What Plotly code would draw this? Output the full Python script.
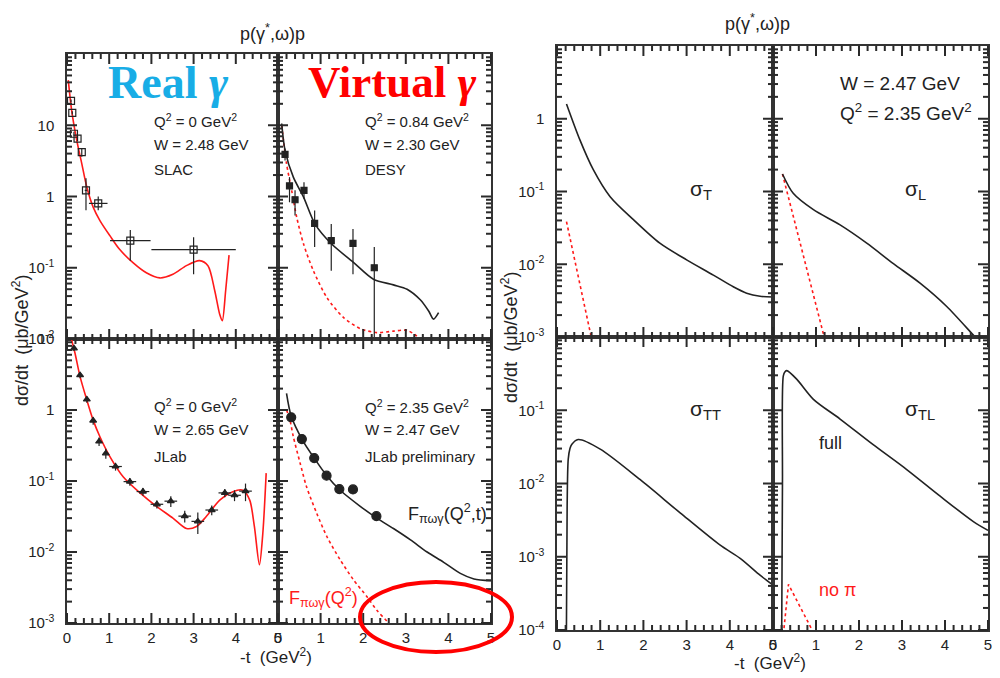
import math
import plotly.graph_objects as go

# ---------------- data ----------------
# Real photon, SLAC (Q2=0, W=2.48)
slac_curve_t = [0.03, 0.11, 0.23, 0.35, 0.47, 0.62, 0.78, 1.02, 1.25, 1.57, 1.88, 2.20, 2.51, 2.83, 3.14, 3.34, 3.50, 3.62, 3.68, 3.76, 3.84]
slac_curve_y = [43, 16.2, 6.2, 2.9, 1.35, 0.71, 0.46, 0.28, 0.18, 0.117, 0.085, 0.072, 0.081, 0.107, 0.126, 0.107, 0.048, 0.022, 0.018, 0.048, 0.15]
slac_t = [0.095, 0.125, 0.165, 0.25, 0.35, 0.45, 0.74, 1.5, 3.0]
slac_y = [22, 14.9, 7.6, 6.5, 4.2, 1.22, 0.80, 0.24, 0.18]
slac_ey_plus = [1.0, 0.8, 0.5, 0.5, 0.6, 0.58, 0.20, 0.10, 0.087]
slac_ey_minus = [1.0, 0.8, 0.5, 0.5, 0.6, 0.58, 0.16, 0.115, 0.099]
slac_ex = [0, 0, 0, 0, 0, 0.03, 0.22, 0.48, 1.0]

# Virtual photon, DESY (Q2=0.84, W=2.30)
desy_curve_t = [0.087, 0.165, 0.36, 0.6, 0.87, 1.26, 1.77, 2.24, 2.71, 3.03, 3.34, 3.54, 3.65, 3.77]
desy_curve_y = [10.6, 4.45, 1.87, 0.98, 0.41, 0.215, 0.119, 0.069, 0.0575, 0.050, 0.0355, 0.0245, 0.019, 0.0234]
desy_nopi_t = [0.087, 0.2, 0.32, 0.44, 0.60, 0.83, 1.15, 1.54, 1.93, 2.32, 2.71, 3.03, 3.26]
desy_nopi_y = [10, 2.9, 1.22, 0.51, 0.215, 0.091, 0.038, 0.020, 0.014, 0.0123, 0.0129, 0.0132, 0.011]
desy_t = [0.165, 0.27, 0.40, 0.61, 0.86, 1.25, 1.76, 2.26]
desy_y = [3.9, 1.41, 0.90, 1.22, 0.42, 0.24, 0.22, 0.10]
desy_ey_plus = [0.8, 0.46, 0.32, 0.36, 0.215, 0.17, 0.13, 0.095]
desy_ey_minus = [0.7, 0.58, 0.36, 0.29, 0.225, 0.149, 0.139, 0.0995]

# Real photon, JLab (Q2=0, W=2.65)
jlab_curve_t = [0.11, 0.19, 0.31, 0.47, 0.62, 0.78, 1.02, 1.33, 1.73, 2.12, 2.51, 2.83, 3.07, 3.30, 3.62, 3.93, 4.17, 4.33, 4.44, 4.56, 4.64, 4.72]
jlab_curve_y = [9.7, 6.3, 2.95, 1.38, 0.72, 0.42, 0.219, 0.115, 0.068, 0.044, 0.030, 0.0214, 0.0229, 0.0316, 0.0537, 0.0708, 0.0741, 0.0537, 0.0229, 0.0066, 0.0182, 0.129]
jlab_t = [0.165, 0.31, 0.47, 0.62, 0.76, 0.92, 1.15, 1.49, 1.80, 2.13, 2.46, 2.79, 3.10, 3.43, 3.74, 3.97, 4.23]
jlab_y = [7.4, 3.1, 1.41, 0.71, 0.36, 0.245, 0.16, 0.098, 0.071, 0.047, 0.052, 0.032, 0.027, 0.039, 0.068, 0.063, 0.072]
jlab_ey = [0.6, 0.3, 0.15, 0.09, 0.05, 0.04, 0.02, 0.012, 0.009, 0.006, 0.009, 0.006, 0.009, 0.006, 0.009, 0.011, 0.02]
jlab_ex = [0.03, 0.03, 0.03, 0.03, 0.03, 0.05, 0.15, 0.15, 0.15, 0.15, 0.15, 0.15, 0.15, 0.15, 0.15, 0.15, 0.15]

# Virtual photon, JLab preliminary (Q2=2.35, W=2.47)
jlp_curve_t = [0.2, 0.31, 0.56, 0.85, 1.14, 1.46, 1.93, 2.32, 2.71, 3.11, 3.5, 3.89, 4.28, 4.6, 5.0]
jlp_curve_y = [1.72, 0.82, 0.39, 0.21, 0.12, 0.074, 0.044, 0.030, 0.0214, 0.0148, 0.010, 0.00716, 0.0050, 0.00417, 0.00394]
jlp_nopi_t = [0.2, 0.28, 0.36, 0.52, 0.67, 0.91, 1.15, 1.46, 1.77, 2.09, 2.32, 2.56, 2.7]
jlp_nopi_y = [1.0, 0.72, 0.42, 0.178, 0.083, 0.035, 0.0164, 0.00776, 0.00407, 0.00234, 0.00151, 0.00105, 0.0008]
jlp_t = [0.31, 0.56, 0.85, 1.14, 1.44, 1.76, 2.31]
jlp_y = [0.79, 0.39, 0.21, 0.119, 0.077, 0.076, 0.032]

# Right block: separated cross sections (W=2.47, Q2=2.35)
sT_t = [0.22, 0.53, 0.84, 1.23, 1.77, 2.38, 3.0, 3.62, 4.08, 4.39, 4.70, 5.0]
sT_y = [1.6, 0.513, 0.20, 0.085, 0.041, 0.0195, 0.0115, 0.0071, 0.0049, 0.0040, 0.00363, 0.00355]
sT_nopi_t = [0.22, 0.80]
sT_nopi_y = [0.0385, 0.00095]
sL_t = [0.22, 0.47, 0.94, 1.56, 2.18, 2.8, 3.42, 4.04, 4.70, 4.9]
sL_y = [0.174, 0.0944, 0.0562, 0.0347, 0.0195, 0.0102, 0.0055, 0.00263, 0.001, 0.00075]
sL_nopi_t = [0.22, 1.20]
sL_nopi_y = [0.174, 0.00095]
sTT_t = [0.215, 0.235, 0.26, 0.30, 0.34, 0.49, 1.0, 1.92, 2.85, 3.77, 4.24, 4.70, 5.0]
sTT_y = [5e-5, 0.005, 0.0214, 0.030, 0.0340, 0.0398, 0.0295, 0.01135, 0.00398, 0.00145, 0.00095, 0.00056, 0.00041]
sTL_t = [0.20, 0.22, 0.24, 0.28, 0.32, 0.55, 0.94, 1.56, 2.33, 3.11, 3.88, 4.66, 5.0]
sTL_y = [5e-5, 0.01, 0.295, 0.335, 0.347, 0.266, 0.141, 0.0759, 0.0339, 0.0155, 0.00676, 0.00302, 0.00229]
sTL_nopi_t = [0.20, 0.36, 0.95]
sTL_nopi_y = [5e-5, 0.00042, 9e-5]

x_ticks = [0, 1, 2, 3, 4, 5]
x_ticklabels = ["0", "1", "2", "3", "4", "5"]

# ---------------- styling helpers ----------------
W, H = 1000, 678
FONT = "Liberation Sans, Arial, sans-serif"
INK = "#222222"
AX = "#333333"
MAJ, MIN = 10, 5


def px(x):
    return x / W


def py(y):
    return 1 - y / H


def dec_label(e):
    if e == 1:
        return "10"
    if e == 0:
        return "1"
    return "10<sup>%d</sup>" % e


def xaxis(x0, x1, anchor, labels):
    return dict(domain=[px(x0), px(x1)], anchor=anchor, range=[0, 5], automargin=False,
                showline=True, linecolor=AX, linewidth=1.5, mirror=True, ticks="",
                tickmode="array", tickvals=x_ticks, ticktext=x_ticklabels,
                showticklabels=labels, showgrid=False, zeroline=False,
                tickfont=dict(size=15, family=FONT, color=INK))


def yaxis(y0, y1, anchor, lo, hi, labexps, labels):
    return dict(domain=[py(y1), py(y0)], anchor=anchor, type="log", range=[lo, hi], automargin=False,
                showline=True, linecolor=AX, linewidth=1.5, mirror=True, ticks="",
                tickmode="array", tickvals=[10.0 ** e for e in labexps],
                ticktext=[dec_label(e) for e in labexps], ticklabelstandoff=8,
                showticklabels=labels, showgrid=False, zeroline=False,
                tickfont=dict(size=15, family=FONT, color=INK))


fig = go.Figure()

LX = [67, 278, 491]
LY = [54, 339, 623]
RX = [557, 773, 988]
RY = [46, 337, 630]

# (axis suffix, x0, x1, y0, y1, lo, hi, labexps, xlabels, ylabels)
panels = [
    ("", LX[0], LX[1], LY[0], LY[1], -2, 2, [-2, -1, 0, 1], False, True),
    ("2", LX[1], LX[2], LY[0], LY[1], -2, 2, [-2, -1, 0, 1], False, False),
    ("3", LX[0], LX[1], LY[1], LY[2], -3, 1, [-3, -2, -1, 0, 1], True, True),
    ("4", LX[1], LX[2], LY[1], LY[2], -3, 1, [-3, -2, -1, 0, 1], True, False),
    ("5", RX[0], RX[1], RY[0], RY[1], -3, 1, [-3, -2, -1, 0], False, True),
    ("6", RX[1], RX[2], RY[0], RY[1], -3, 1, [-3, -2, -1, 0], False, False),
    ("7", RX[0], RX[1], RY[1], RY[2], -4, 0, [-4, -3, -2, -1], True, True),
    ("8", RX[1], RX[2], RY[1], RY[2], -4, 0, [-4, -3, -2, -1], True, False),
]

layout_axes = {}
shapes = []


def tick(xa, ya, xb, yb):
    shapes.append(dict(type="line", xref="paper", yref="paper",
                       x0=px(xa), y0=py(ya), x1=px(xb), y1=py(yb),
                       line=dict(color="#2a2a2a", width=2), layer="above"))


for n, x0, x1, y0, y1, lo, hi, labexps, xl, yl in panels:
    layout_axes["xaxis" + n] = xaxis(x0, x1, "y" + n, xl)
    layout_axes["yaxis" + n] = yaxis(y0, y1, "x" + n, lo, hi, labexps, yl)
    wpx, hpx = x1 - x0, y1 - y0
    # full frame of ticks (major + minor), drawn in paper space from the panel geometry
    for i in range(26):
        xx = x0 + wpx * i / 25.0
        ln = MAJ if i % 5 == 0 else MIN
        tick(xx, y1, xx, y1 - ln)
        tick(xx, y0, xx, y0 + ln)
    for e in range(lo, hi):
        for m in range(1, 10):
            yy = y1 - hpx * (math.log10(m) + e - lo) / (hi - lo)
            ln = MAJ if m == 1 else MIN
            tick(x0, yy, x0 + ln, yy)
            tick(x1, yy, x1 - ln, yy)


def line(t, y, ax, color, dash="solid", width=1.6, shape="spline"):
    fig.add_trace(go.Scatter(x=t, y=y, mode="lines", xaxis="x" + ax, yaxis="y" + ax,
                             line=dict(color=color, width=width, dash=dash, shape=shape,
                                       smoothing=0.8 if shape == "spline" else None),
                             showlegend=False, hoverinfo="skip"))


def points(t, y, ax, symbol, size, eyp=None, eym=None, ex=None):
    kw = {}
    if eyp is not None:
        kw["error_y"] = dict(type="data", symmetric=False, array=eyp,
                             arrayminus=eym if eym is not None else eyp,
                             color=INK, thickness=1.2, width=0)
    if ex is not None:
        kw["error_x"] = dict(type="data", array=ex, color=INK, thickness=1.2, width=0)
    fig.add_trace(go.Scatter(x=t, y=y, mode="markers", xaxis="x" + ax, yaxis="y" + ax,
                             marker=dict(symbol=symbol, size=size, color=INK,
                                         line=dict(color=INK, width=1.2)),
                             showlegend=False, hoverinfo="skip", **kw))


RED = "#ff1a1a"
line(slac_curve_t, slac_curve_y, "", RED)
points(slac_t, slac_y, "", "square-open", 7, slac_ey_plus, slac_ey_minus, slac_ex)
line(desy_nopi_t, desy_nopi_y, "2", RED, dash="dot")
line(desy_curve_t, desy_curve_y, "2", INK)
points(desy_t, desy_y, "2", "square", 6, desy_ey_plus, desy_ey_minus)
line(jlab_curve_t, jlab_curve_y, "3", RED)
points(jlab_t, jlab_y, "3", "triangle-up", 6, jlab_ey, jlab_ey, jlab_ex)
line(jlp_nopi_t, jlp_nopi_y, "4", RED, dash="dot")
line(jlp_curve_t, jlp_curve_y, "4", INK)
points(jlp_t, jlp_y, "4", "circle", 9)
line(sT_nopi_t, sT_nopi_y, "5", RED, dash="dot", shape="linear")
line(sT_t, sT_y, "5", INK)
line(sL_nopi_t, sL_nopi_y, "6", RED, dash="dot", shape="linear")
line(sL_t, sL_y, "6", INK)
line(sTT_t, sTT_y, "7", INK)
line(sTL_nopi_t, sTL_nopi_y, "8", RED, dash="dot", shape="linear")
line(sTL_t, sTL_y, "8", INK)

annotations = []


def ann(x, y, text, size=15, color=INK, xanchor="left", family=FONT, angle=0, yanchor="middle"):
    annotations.append(dict(x=px(x), y=py(y), xref="paper", yref="paper", text=text,
                            showarrow=False, xanchor=xanchor, yanchor=yanchor, textangle=angle,
                            font=dict(size=size, color=color, family=family)))


ann(272, 32, "p(γ<sup>*</sup>,ω)p", 18, xanchor="center")
ann(757, 22, "p(γ<sup>*</sup>,ω)p", 18, xanchor="center")
SERIF = "Liberation Serif, Times New Roman, serif"
ann(168, 82, "<b>Real <i>γ</i></b>", 46, "#18ade6", "center", SERIF)
ann(392, 82, "<b>Virtual <i>γ</i></b>", 45, "#ff0000", "center", SERIF)

ann(152, 120, "Q<sup>2</sup> = 0 GeV<sup>2</sup>")
ann(152, 144, "W = 2.48 GeV")
ann(152, 169, "SLAC")
ann(363, 120, "Q<sup>2</sup> = 0.84 GeV<sup>2</sup>")
ann(363, 144, "W = 2.30 GeV")
ann(363, 169, "DESY")
ann(152, 405, "Q<sup>2</sup> = 0 GeV<sup>2</sup>")
ann(152, 430, "W = 2.65 GeV")
ann(152, 456, "JLab")
ann(363, 406, "Q<sup>2</sup> = 2.35 GeV<sup>2</sup>")
ann(363, 430, "W = 2.47 GeV")
ann(363, 456, "JLab preliminary")
ann(406, 513, "F<sub>πωγ</sub>(Q<sup>2</sup>,t)", 18)
ann(287, 597, "F<sub>πωγ</sub>(Q<sup>2</sup>)", 18, RED)

ann(838, 83, "W = 2.47 GeV", 19)
ann(838, 112, "Q<sup>2</sup> = 2.35 GeV<sup>2</sup>", 19)
ann(688, 190, "σ<sub>T</sub>", 21)
ann(903, 190, "σ<sub>L</sub>", 21)
ann(688, 410, "σ<sub>TT</sub>", 21)
ann(903, 410, "σ<sub>TL</sub>", 21)
ann(817, 443, "full", 18)
ann(817, 590, "no π", 18, RED)

ann(20, 340, "dσ/dt  (μb/GeV<sup>2</sup>)", 18, xanchor="center", angle=-90)
ann(509, 337, "dσ/dt  (μb/GeV<sup>2</sup>)", 18, xanchor="center", angle=-90)
ann(276, 656, "-t  (GeV<sup>2</sup>)", 17, xanchor="center")
ann(770, 662, "-t  (GeV<sup>2</sup>)", 17, xanchor="center")

shapes.append(dict(type="circle", xref="paper", yref="paper",
                   x0=px(360), x1=px(512), y0=py(652), y1=py(582),
                   line=dict(color="#ff0000", width=4)))

fig.update_layout(width=W, height=H, autosize=False,
                  margin=dict(l=0, r=0, t=0, b=0),
                  paper_bgcolor="white", plot_bgcolor="white",
                  annotations=annotations, shapes=shapes,
                  font=dict(family=FONT, color=INK), **layout_axes)

fig.write_html("out.html", config={"displayModeBar": False},
               post_script="document.body.style.margin='0';document.body.style.padding='0';")
